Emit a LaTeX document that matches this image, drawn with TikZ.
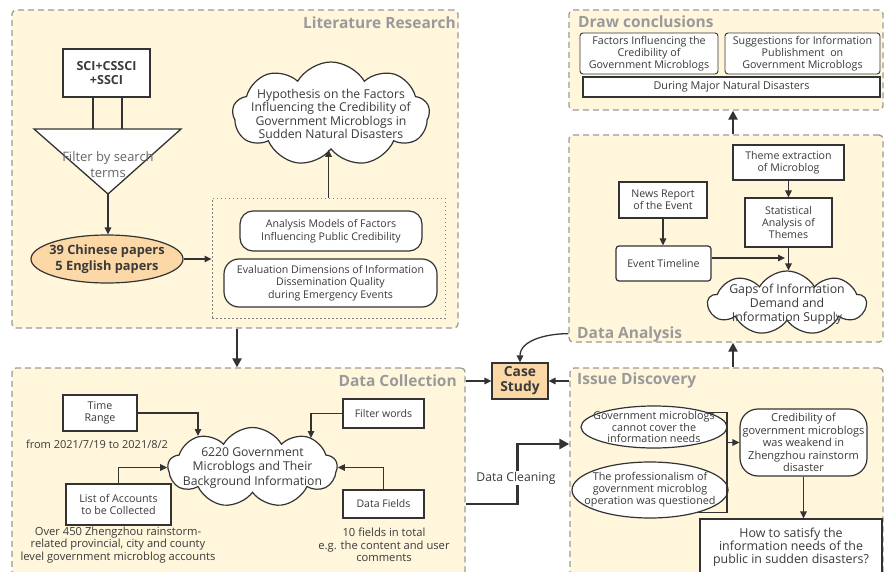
\documentclass[tikz,border=0pt]{standalone}
\usepackage{fontspec}
\setmainfont{Open Sans}
\usetikzlibrary{shapes.symbols,shapes.geometric,arrows.meta}
\definecolor{panelfill}{HTML}{FFF6DC}
\definecolor{panelborder}{HTML}{9A9A9A}
\definecolor{titlegray}{HTML}{9A9A9A}
\definecolor{orangefill}{HTML}{FBD8A5}
\definecolor{txt}{HTML}{3A3A3A}
\definecolor{ln}{HTML}{333333}
\newcommand{\fs}[2]{\fontsize{#1}{#2}\selectfont}
\tikzset{
  wh/.style 2 args={minimum width=#1pt, minimum height=#2pt},
  panel/.style={draw=panelborder, fill=panelfill, dash pattern=on 6pt off 4pt, line width=1.3pt, rounded corners=4pt, inner sep=0pt},
  ptitle/.style={font=\fs{15.5}{17}\bfseries, text=titlegray, inner sep=0pt},
  box/.style={draw=ln, fill=white, line width=1.2pt, inner sep=0pt, align=center, text=txt, font=\fs{10.7}{12.3}},
  rbox/.style={box, rounded corners=4pt},
  ellshape/.style={draw=ln, fill=white, line width=1.2pt, ellipse, inner sep=0pt},
  cloudshape/.style={cloud, cloud puffs=9, cloud puff arc=120, cloud ignores aspect, draw=ln, fill=white, line width=1.2pt, inner sep=0pt},
  ctext/.style={align=center, text=txt, font=\fs{12}{13.5}, inner sep=0pt},
  note/.style={align=center, text=txt, font=\fs{11.2}{12.3}, inner sep=0pt},
  arr/.style={draw=ln, line width=1.3pt, -{Triangle[length=7pt,width=6.5pt]}},
  big/.style={draw=ln, line width=2.6pt, -{Triangle[length=9pt,width=9pt]}},
  plain/.style={draw=ln, line width=1.3pt},
}
\begin{document}
\begin{tikzpicture}[x=1pt,y=-1pt]
\useasboundingbox (0,0) rectangle (885,572);
\fill[white] (0,0) rectangle (885,572);

% ---------- panels ----------
\node[panel, wh={446}{318}] (lit) at (235,169) {};
\node[panel, wh={453}{214}] (col) at (238.5,475) {};
\node[panel, wh={314}{100}] (con) at (726,60) {};
\node[panel, wh={314}{207}] (ana) at (726,238.5) {};
\node[panel, wh={313}{214}] (iss) at (726.5,475) {};

\node[ptitle, anchor=east] (tlit) at (456,23) {Literature Research};
\node[ptitle, anchor=east] (tcol) at (457,381) {Data Collection};
\node[ptitle, anchor=west] (tcon) at (578,22) {Draw conclusions};
\node[ptitle, anchor=west] (tana) at (577,334) {Data Analysis};
\node[ptitle, anchor=west] (tiss) at (577,380) {Issue Discovery};

% ---------- Literature Research ----------
\node[box, wh={87}{48}, font=\fs{12.5}{14.5}\bfseries] (sci) at (106.5,73) {SCI+CSSCI\\+SSCI};
\coordinate (t1) at (93,129);
\coordinate (t2) at (122,129);
\coordinate (tl) at (34,129);
\coordinate (tr) at (181,129);
\coordinate (apex) at (108,194);
\draw[plain, fill=white] (tl) -- (tr) -- (apex) -- cycle;
\draw[plain] ([xshift=-13.5pt]sci.south) -- (t1);
\draw[plain] ([xshift=15.5pt]sci.south) -- (t2);
\node[align=center, text=black!60, font=\fs{13}{16}, inner sep=0pt] (flt) at (108,165) {Filter by search\\terms};
\node[ellshape, wh={152}{48}, fill=orangefill] (ppr) at (107,259) {};
\node[align=center, text=txt, inner sep=0pt, font=\fs{12.8}{15.5}\bfseries] (pprt) at (107,259) {39 Chinese papers\\5 English papers};
\draw[arr] (apex) -- (apex |- ppr.north);

\node[draw=black!50, line width=1pt, dash pattern=on 1.5pt off 2.5pt, wh={233}{120}, inner sep=0pt] (dbox) at (328.5,258) {};
\draw[arr] (ppr.east) -- (dbox.west |- ppr.east);
\node[box, rounded corners=13pt, wh={182}{40}, font=\fs{10.6}{12.7}] (am) at (331,231) {Analysis Models of Factors\\Influencing Public Credibility};
\node[box, rounded corners=15pt, wh={213}{48}, font=\fs{10.6}{12.7}] (ed) at (330.5,283) {Evaluation Dimensions of Information\\Dissemination Quality\\during Emergency Events};
\node[cloudshape, wh={197}{104}] (hyp) at (331,114) {};
\node[ctext, font=\fs{12.2}{13.4}] (hypt) at (331,114) {Hypothesis on the Factors\\Influencing the Credibility of\\Government Microblogs in\\Sudden Natural Disasters};
\draw[arr] (dbox.north) -- (dbox.north |- hyp.south);

% ---------- Draw conclusions ----------
\node[box, rounded corners=3pt, line width=0.9pt, wh={138}{41}, font=\fs{10.7}{12}] (f1) at (649,53.5) {Factors Influencing the\\Credibility of\\Government Microblogs};
\node[box, rounded corners=3pt, line width=0.9pt, wh={155}{41}, font=\fs{10.7}{12}] (f2) at (802.5,53.5) {Suggestions for Information\\Publishment~ on\\Government Microblogs};
\node[box, line width=1.6pt, wh={297}{20}, font=\fs{10.8}{12}] (dmd) at (731.5,87) {During Major Natural Disasters};

% ---------- Data Analysis ----------
\node[box, wh={111}{35}, font=\fs{10.6}{12.4}] (th) at (788.5,162.5) {Theme extraction\\of Microblog};
\node[box, wh={87}{49}, font=\fs{10.6}{12.4}] (st) at (788.5,222.5) {Statistical\\Analysis of\\Themes};
\node[box, wh={88}{36}, font=\fs{10.6}{12.4}] (nr) at (663,200) {News Report\\of the Event};
\node[rbox, rounded corners=3pt, wh={95}{35}, font=\fs{10.6}{12.4}] (et) at (663.5,263.5) {Event Timeline};
\node[cloudshape, wh={158}{64}] (gap) at (787,303) {};
\node[ctext, font=\fs{12.3}{14}] (gapt) at (787,304) {Gaps of Information\\Demand and\\Information Supply};
\draw[arr] (th.south) -- (st.north);
\draw[arr] (nr.south) -- (nr.south |- et.north);
\coordinate (etj) at (785,258);
\draw[arr] (et.east |- etj) -- (etj);
\draw[arr] (st.south) -- (st.south |- gap.north);

% ---------- Issue Discovery ----------
\node[ellshape, wh={146}{42}] (e1) at (654,427) {};
\node[align=center, text=txt, inner sep=0pt, font=\fs{10.8}{11.3}] (e1t) at (654,427) {Government microblogs\\cannot cover the\\information needs};
\node[ellshape, wh={156}{56}] (e2) at (650,490) {};
\node[align=center, text=txt, inner sep=0pt, font=\fs{10.8}{12}] (e2t) at (650,490) {The professionalism of\\government microblog\\operation was questioned};
\node[box, rounded corners=18pt, wh={127}{67}, font=\fs{11}{12.4}] (cred) at (803.5,442.5) {Credibility of\\government microblogs\\was weakend in\\Zhengzhou rainstorm\\disaster};
\node[box, wh={182}{56}, font=\fs{12.4}{13}] (q) at (791,547) {How to satisfy the\\information needs of the\\public in sudden disasters?};
\coordinate (bx) at (727,443);
\draw[plain] (e1.15) -- (e1.15 -| bx) -- (bx |- e2.-25) -- (e2.-25);
\draw[arr] (bx |- cred.west) -- (cred.west);
\draw[arr] (cred.south) -- (cred.south |- q.north);

% ---------- Data Collection ----------
\node[box, wh={74}{36}] (tmr) at (100,413) {Time\\Range};
\node[note, font=\fs{11}{12}] (from) at (97,444) {from 2021/7/19 to 2021/8/2};
\node[cloudshape, wh={169}{80}] (mb) at (252.5,467.5) {};
\node[ctext, font=\fs{12.2}{14.2}] (mbt) at (252.5,468) {6220 Government\\Microblogs and Their\\Background Information};
\node[box, wh={105}{41}] (lac) at (118.5,504.5) {List of Accounts\\to be Collected};
\node[note] (over) at (118,545) {Over 450 Zhengzhou rainstorm-\\related provincial, city and county\\level government microblog accounts};
\node[box, wh={81}{29}, font=\fs{10.5}{12}] (fw) at (383.5,413.5) {Filter words};
\node[box, wh={81}{28}, font=\fs{10.5}{12}] (df) at (383.5,504) {Data Fields};
\node[note] (ten) at (384,545) {10 fields in total\\e.g. the content and user\\comments};
\coordinate (c1) at (198,436);
\coordinate (c2) at (311,438);
\draw[arr] (tmr.east) -| (c1);
\draw[arr] (lac.north) |- (mb.west);
\draw[arr] (fw.west) -| (c2);
\draw[arr] (df.north) |- (mb.east);

% ---------- Case study and flow between panels ----------
\node[box, fill=orangefill, wh={56}{36}, font=\fs{13.8}{15}\bfseries] (cs) at (520,381) {Case\\Study};
\draw[arr] (cs.west -| col.east) -- (cs.west);
\draw[arr] (cs.east -| iss.west) -- (cs.east);
\draw[arr] ([yshift=9pt]ana.south west) to[out=180,in=90] (cs.north);

\draw[big] ([xshift=2pt]lit.south) -- ([xshift=2pt]lit.south |- col.north);
\draw[big, line width=2.2pt] ([xshift=6.5pt]iss.north) -- ([xshift=6.5pt]iss.north |- ana.south);
\draw[big, line width=2.2pt] ([xshift=7pt]ana.north) -- ([xshift=7pt]ana.north |- con.south);

\draw[big, -{Triangle[length=10pt,width=10pt]}] ([yshift=-29pt]col.east) -- ++(52,0) |- ([yshift=31pt]iss.west);
\node[fill=white, text=txt, font=\fs{12.2}{13}, inner sep=1pt] (dcl) at (516,478) {Data Cleaning};
\end{tikzpicture}
\end{document}
